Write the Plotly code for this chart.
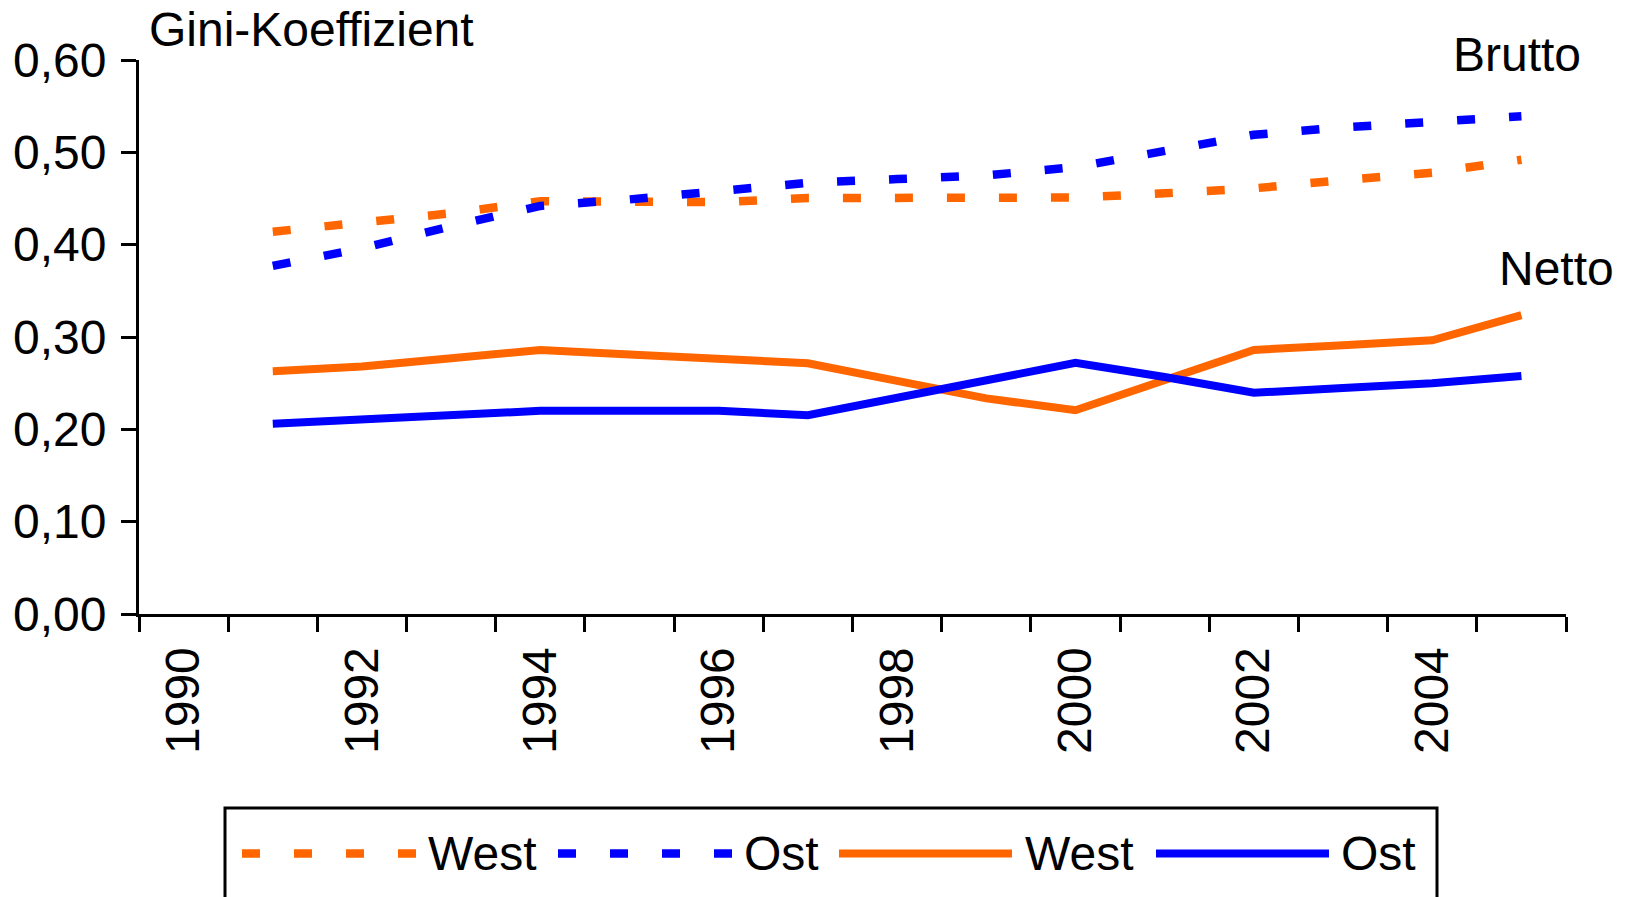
import plotly.graph_objects as go

# ---------------- data ----------------
years = list(range(1991, 2006))
brutto_west = [0.414, 0.424, 0.434, 0.447, 0.4455, 0.446, 0.4505, 0.4505, 0.4505, 0.451,
               0.4556, 0.461, 0.470, 0.478, 0.492]
brutto_ost = [0.377, 0.396, 0.420, 0.442, 0.449, 0.458, 0.467, 0.471, 0.475, 0.484,
              0.501, 0.519, 0.527, 0.533, 0.539]
netto_west = [0.263, 0.268, 0.277, 0.286, 0.281, 0.276, 0.2716, 0.2525, 0.2335, 0.2207,
              0.2535, 0.286, 0.291, 0.2964, 0.3236]
netto_ost = [0.206, 0.2105, 0.215, 0.220, 0.220, 0.220, 0.2153, 0.234, 0.2528, 0.272,
             0.2567, 0.2396, 0.2447, 0.2498, 0.2578]

all_years = list(range(1990, 2006))
x_label_years = [1990, 1992, 1994, 1996, 1998, 2000, 2002, 2004]
y_tickvals = [0.0, 0.1, 0.2, 0.3, 0.4, 0.5, 0.6]
y_ticktext = ["0,00", "0,10", "0,20", "0,30", "0,40", "0,50", "0,60"]

series_names = ["West", "Ost", "West", "Ost"]
y_title = "Gini-Koeffizient"
label_brutto = "Brutto"
label_netto = "Netto"

# ---------------- styling ----------------
ORANGE = "#FF6600"
BLUE = "#0000FF"
FONT = "Liberation Sans, Arial, sans-serif"
FS = 48
DASH = "18px,34px"

W, H = 1628, 897
L, R, T, B = 139, 1566, 60, 614
TXT_PAD = 4  # annotation inner padding compensation


def px(x):
    return (x - L) / (R - L)


def py(y):
    return (B - y) / (B - T)


fig = go.Figure()
fig.add_trace(go.Scatter(x=years, y=brutto_west, mode="lines", name="West",
                         line=dict(color=ORANGE, width=8.5, dash=DASH)))
fig.add_trace(go.Scatter(x=years, y=brutto_ost, mode="lines", name="Ost",
                         line=dict(color=BLUE, width=8.5, dash=DASH)))
fig.add_trace(go.Scatter(x=years, y=netto_west, mode="lines", name="West",
                         line=dict(color=ORANGE, width=8)))
fig.add_trace(go.Scatter(x=years, y=netto_ost, mode="lines", name="Ost",
                         line=dict(color=BLUE, width=8)))

boundaries = [y - 0.5 for y in all_years] + [all_years[-1] + 0.5]

fig.update_xaxes(
    range=[all_years[0] - 0.5, all_years[-1] + 0.5], automargin=False,
    tickmode="array", tickvals=x_label_years, ticktext=[str(v) for v in x_label_years],
    ticks="", tickangle=-90, ticklabelstandoff=11,
    tickfont=dict(family=FONT, size=FS, color="black"),
    showline=True, linecolor="black", linewidth=3, showgrid=False, zeroline=False,
    minor=dict(tickmode="array", tickvals=boundaries, ticks="outside", ticklen=15,
               tickwidth=3, tickcolor="black", showgrid=False),
)
fig.update_yaxes(
    range=[0, 0.6], automargin=False, tickmode="array", tickvals=y_tickvals, ticktext=y_ticktext,
    ticks="outside", ticklen=15, tickwidth=3, tickcolor="black", ticklabelstandoff=5,
    tickfont=dict(family=FONT, size=FS, color="black"),
    showline=True, linecolor="black", linewidth=3, showgrid=False, zeroline=False,
)

ann = []
shapes = []


def text(x, y, s, anchor="left"):
    ann.append(dict(x=px(x - TXT_PAD), y=py(y), xref="paper", yref="paper", text=s,
                    showarrow=False, xanchor=anchor, yanchor="middle",
                    font=dict(family=FONT, size=FS, color="black")))


text(151, 30, y_title)
text(1455, 54, label_brutto)
text(1501, 268, label_netto)

# legend (custom, long line samples)
shapes.append(dict(type="rect", xref="paper", yref="paper", x0=px(225), x1=px(1437),
                   y0=py(808), y1=py(920), line=dict(color="black", width=3)))
leg_y = 853.5
items = [
    (242, 416, ORANGE, DASH, 430, series_names[0]),
    (558, 732, BLUE, DASH, 746, series_names[1]),
    (839, 1012, ORANGE, "solid", 1027, series_names[2]),
    (1156, 1329, BLUE, "solid", 1343, series_names[3]),
]
for x0, x1, col, dash, tx, name in items:
    shapes.append(dict(type="line", xref="paper", yref="paper", x0=px(x0), x1=px(x1),
                       y0=py(leg_y), y1=py(leg_y),
                       line=dict(color=col, width=8.5 if dash != "solid" else 8, dash=dash)))
    text(tx, leg_y, name)

fig.update_layout(
    width=W, height=H, autosize=False,
    margin=dict(l=L, r=W - R, t=T, b=H - B, pad=0),
    paper_bgcolor="white", plot_bgcolor="white",
    showlegend=False, annotations=ann, shapes=shapes,
    font=dict(family=FONT, size=FS, color="black"),
)

fig.write_html("out.html", config={"displayModeBar": False},
               post_script="document.body.style.margin='0';")
